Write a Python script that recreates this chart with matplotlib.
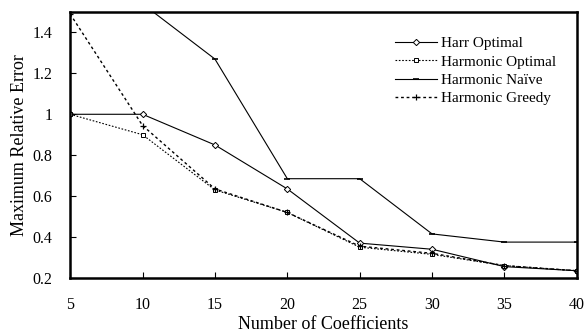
import matplotlib
matplotlib.use("Agg")
import matplotlib.pyplot as plt
from matplotlib.ticker import FormatStrFormatter

plt.rcParams['font.family'] = ['Liberation Serif', 'DejaVu Serif']

coeffs = [5, 10, 15, 20, 25, 30, 35, 40]
harr_optimal = [1.0, 1.0, 0.85, 0.635, 0.37, 0.34, 0.255, 0.235]
harmonic_optimal = [1.0, 0.9, 0.63, 0.52, 0.35, 0.315, 0.26, 0.235]
harmonic_naive = [1.8, 1.54, 1.27, 0.685, 0.685, 0.415, 0.375, 0.375]
harmonic_greedy = [1.49, 0.945, 0.635, 0.52, 0.355, 0.32, 0.26, 0.235]

fig = plt.figure(figsize=(5.85, 3.34), dpi=100)
ax = fig.add_axes([0.12, 0.168, 0.866, 0.796])

ax.plot(coeffs, harr_optimal, color='black', lw=0.8, marker='D', ms=3.2,
        mfc='white', mec='black', mew=0.7, label='Harr Optimal')
ax.plot(coeffs, harmonic_optimal, color='black', lw=0.8, ls=(0, (1.5, 1.5)),
        marker='s', ms=3.2, mfc='white', mec='black', mew=0.7,
        label='Harmonic Optimal')
ax.plot(coeffs, harmonic_naive, color='black', lw=0.8, marker='_', ms=4,
        mew=1.2, label='Harmonic Na\u00efve')
ax.plot(coeffs, harmonic_greedy, color='black', lw=1.0, ls=(0, (2, 2)),
        marker='+', ms=5, mew=0.9, label='Harmonic Greedy')

ax.set_xlim(5, 40)
ax.set_ylim(0.2, 1.5)
ax.set_xticks(coeffs)
ax.set_yticks([0.2, 0.4, 0.6, 0.8, 1.0, 1.2, 1.4])
ax.yaxis.set_major_formatter(FormatStrFormatter('%g'))
ax.tick_params(direction='in', length=4, width=0.8, labelsize=11.5)
ax.tick_params(axis='y', pad=13)
ax.tick_params(axis='x', pad=14)
for s in ax.spines.values():
    s.set_linewidth(1.8)

ax.set_xlabel('Number of Coefficients', fontsize=13, labelpad=2)
ax.set_ylabel('Maximum Relative Error', fontsize=13, labelpad=3)

ax.legend(loc='upper left', bbox_to_anchor=(0.63, 0.93), frameon=False,
          fontsize=11, handlelength=2.75, handletextpad=0.2, labelspacing=0.3,
          borderaxespad=0)

fig.savefig('out.png', dpi=100)
